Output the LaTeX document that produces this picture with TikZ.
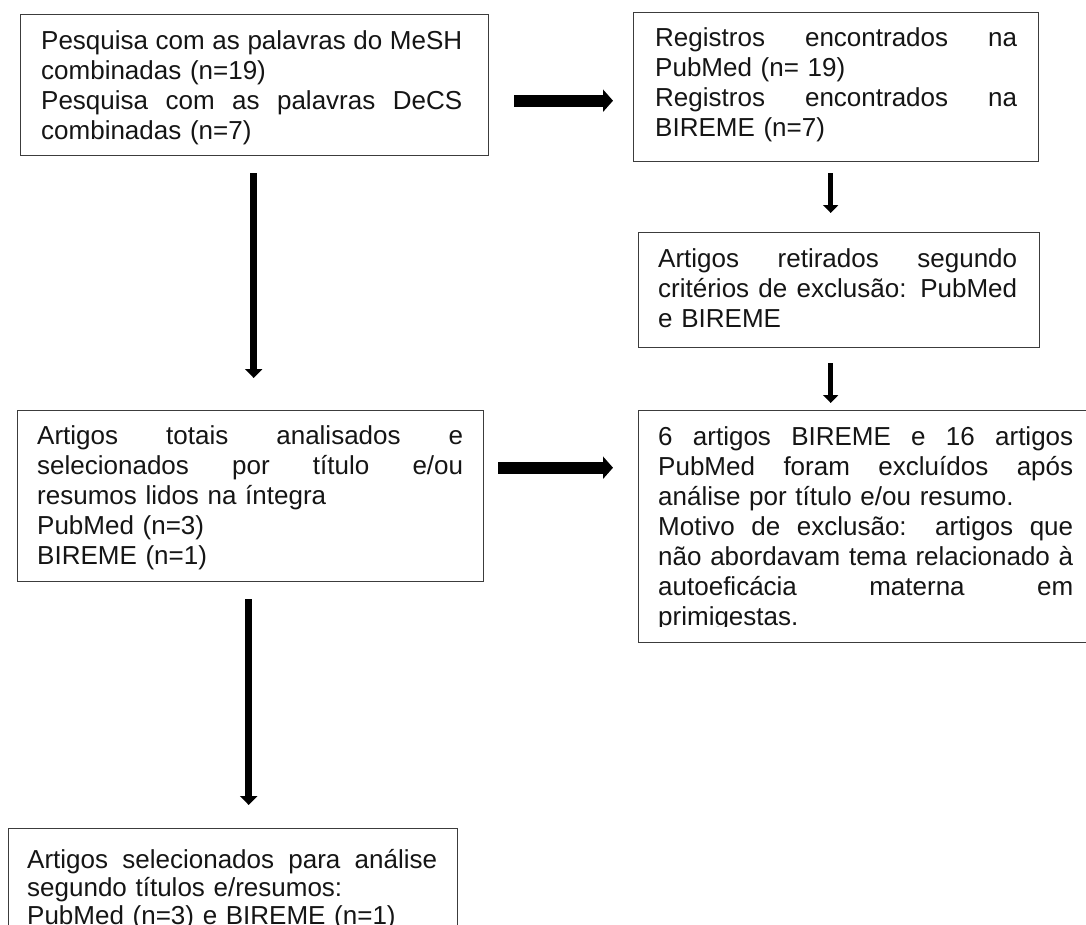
\documentclass[tikz,border=0pt]{standalone}
\usepackage{fontspec}
\setmainfont{Liberation Sans}
\usetikzlibrary{arrows.meta,calc}
\definecolor{bord}{HTML}{3C3C3C}
\definecolor{ink}{HTML}{151515}
\newcommand{\jl}[1]{\makebox[\hsize][s]{\spaceskip=0pt\xspaceskip=0pt\relax#1}}
\newcommand{\fs}{\rule{0pt}{20pt}}
\tikzset{
  boxst/.style={draw=bord, line width=1.4pt, inner sep=0pt, anchor=north west, fill=white},
  txt/.style={inner sep=0pt, anchor=north west, align=left, text=ink,
              font=\fontsize{26}{30}\selectfont},
  bigarrow/.style={line width=12pt, -{Triangle[width=22pt,length=10pt]}},
  midarrow/.style={line width=7.5pt, -{Triangle[width=17pt,length=9pt]}},
  smallarrow/.style={line width=5.5pt, -{Triangle[width=15pt,length=8pt]}},
}
\begin{document}
\begin{tikzpicture}[x=1pt,y=-1pt]
\useasboundingbox (0,0) rectangle (1086,924);
\clip (0,0) rectangle (1086,924);

% boxes
\node[boxst, minimum width=468pt, minimum height=141pt] (a) at (20,14) {};
\node[boxst, minimum width=405pt, minimum height=149pt] (b) at (633,12) {};
\node[boxst, minimum width=401pt, minimum height=115pt] (c) at (638,232) {};
\node[boxst, minimum width=466pt, minimum height=171pt] (d) at (17,410) {};
\node[boxst, minimum width=480pt, minimum height=232pt] (e) at (638,410) {};
\node[boxst, minimum width=449pt, minimum height=130pt] (f) at (8,828) {};

% texts
\node[txt, text width=421pt] (at) at (41,29) {\fs\jl{Pesquisa com as palavras do MeSH}\\combinadas (n=19)\\\jl{Pesquisa com as palavras DeCS}\\combinadas (n=7)};
\node[txt, text width=362pt] (bt) at (655,26) {\fs\jl{Registros encontrados na}\\PubMed (n= 19)\\\jl{Registros encontrados na}\\BIREME (n=7)};
\node[txt, text width=359pt] (ct) at (658,247) {\fs\jl{Artigos retirados segundo}\\\jl{critérios de exclusão: PubMed}\\e BIREME};
\node[txt, text width=426pt] (dt) at (37,424) {\fs\jl{Artigos totais analisados e}\\\jl{selecionados por título e/ou}\\resumos lidos na íntegra\\PubMed (n=3)\\BIREME (n=1)};
\begin{scope}
\clip (600,400) rectangle (1086,626);
\node[txt, text width=415pt] (et) at (658,425) {\fs\jl{6 artigos BIREME e 16 artigos}\\\jl{PubMed foram excluídos após}\\análise por título e/ou resumo.\\\jl{Motivo de exclusão: artigos que}\\\jl{não abordavam tema relacionado à}\\\jl{autoeficácia materna em}\\primigestas.};
\end{scope}
\node[txt, text width=410pt, font=\fontsize{26}{28}\selectfont] (ft) at (27,848) {\fs\jl{Artigos selecionados para análise}\\segundo títulos e/resumos:\\PubMed (n=3) e BIREME (n=1)};

% connectors
\draw[bigarrow, shorten <=25pt, shorten >=20pt] ([yshift=-15.5pt]a.east) -- ([yshift=-15.5pt]a.east -| b.west);
\draw[bigarrow, shorten <=14pt, shorten >=25pt] ([yshift=28.5pt]d.east) -- ([yshift=28.5pt]d.east -| e.west);
\draw[smallarrow, shorten <=11pt, shorten >=19pt] ([xshift=-5.5pt]b.south) -- ([xshift=-5.5pt]b.south |- c.north);
\draw[smallarrow, shorten <=15pt, shorten >=7pt] ([xshift=-8.5pt]c.south) -- ([xshift=-8.5pt]c.south |- e.north);
\draw[midarrow, shorten <=17pt, shorten >=32pt] ([xshift=-1pt]a.south) -- ([xshift=-1pt]a.south |- d.north);
\draw[midarrow, shorten <=17pt, shorten >=23pt] ([xshift=-2pt]d.south) -- ([xshift=-2pt]d.south |- f.north);
\end{tikzpicture}
\end{document}
